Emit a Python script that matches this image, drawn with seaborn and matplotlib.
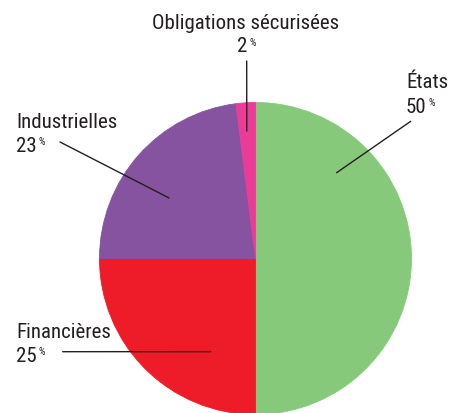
import os
import matplotlib
matplotlib.use("Agg")
import matplotlib.pyplot as plt
from matplotlib import font_manager as fm
import seaborn as sns

# ---- data ----
categories = ["États", "Financières", "Industrielles", "Obligations sécurisées"]
values = [50, 25, 23, 2]
value_labels = ["50", "25", "23", "2"]

# ---- style ----
sns.set_theme(style="white")
plt.rcParams["font.family"] = ["DejaVu Sans"]
colors = ["#87C97B", "#ED1C28", "#8553A0", "#EA3C96"]
TXT = "#231F20"

# find a condensed / narrow regular font if available
def pick_font():
    prefs = ["robotocondensed-regular", "opensans_condensed-regular",
             "opensanscondensed-regular", "opensans-condensedregular",
             "liberationsansnarrow-regular", "dejavusanscondensed.ttf"]
    files = [f.fname for f in fm.fontManager.ttflist]
    low = {os.path.basename(f).lower(): f for f in files}
    for p in prefs:
        for k, f in low.items():
            if k.startswith(p):
                return fm.FontProperties(fname=f), k
    for k, f in low.items():
        if ("condensed" in k or "narrow" in k) and "bold" not in k and "italic" not in k and "oblique" not in k:
            return fm.FontProperties(fname=f), k
    return fm.FontProperties(family="DejaVu Sans", stretch="condensed"), "fallback"

FP, FONTNAME = pick_font()

W, H = 455, 414
fig = plt.figure(figsize=(W / 100, H / 100), dpi=100)
fig.patch.set_facecolor("white")

cx, cy, r = 255.5, 259.5, 156
ax = fig.add_axes([(cx - r) / W, (H - cy - r) / H, 2 * r / W, 2 * r / H])
wedges, _ = ax.pie(values, colors=colors, startangle=90, counterclock=False)
for w, c in zip(wedges, colors):
    w.set_edgecolor(c)
    w.set_linewidth(0.6)
ax.set_xlim(-1, 1)
ax.set_ylim(-1, 1)
ax.set_aspect("auto")
ax.axis("off")

def fx(x):
    return x / W

def fy(y):
    return 1 - y / H

FS = 15
layout = {
    "États": dict(x=406, yb=88.3, nb=112.7, ha="left", nx=406),
    "Financières": dict(x=16, yb=338.3, nb=361.7, ha="left", nx=16),
    "Industrielles": dict(x=16, yb=128.3, nb=151.7, ha="left", nx=16),
    "Obligations sécurisées": dict(x=245.8, yb=29.3, nb=52.3, ha="center", nx=237),
}
leaders = {
    "États": ((410.7, 122.3), (0.52, 0.55)),
    "Financières": ((62.7, 352.7), (-0.287, -0.597)),
    "Industrielles": ((60.0, 143.0), (-0.554, 0.388)),
    "Obligations sécurisées": ((246.7, 62.0), (-0.056, 0.817)),
}

for name, vlab in zip(categories, value_labels):
    L = layout[name]
    fig.text(fx(L["x"]), fy(L["yb"]), name, ha=L["ha"], va="baseline",
             fontproperties=FP, fontsize=FS, color=TXT)
    num = fig.text(fx(L["nx"]), fy(L["nb"]), vlab, ha="left", va="baseline",
                   fontproperties=FP, fontsize=FS, color=TXT)
    fig.add_artist(plt.Annotation("%", xy=(1, 1), xycoords=num,
                                  xytext=(1.5, -0.5), textcoords="offset points",
                                  ha="left", va="top", fontproperties=FP,
                                  fontsize=7.5, color=TXT))
    (ox, oy), (ix, iy) = leaders[name]
    ax.annotate("", xy=(ix, iy), xycoords="data",
                xytext=(ox, H - oy), textcoords="figure pixels",
                arrowprops=dict(arrowstyle="-", lw=1.0, color=TXT,
                                shrinkA=0, shrinkB=0),
                annotation_clip=False)

fig.savefig("out.png", dpi=100, facecolor="white")
